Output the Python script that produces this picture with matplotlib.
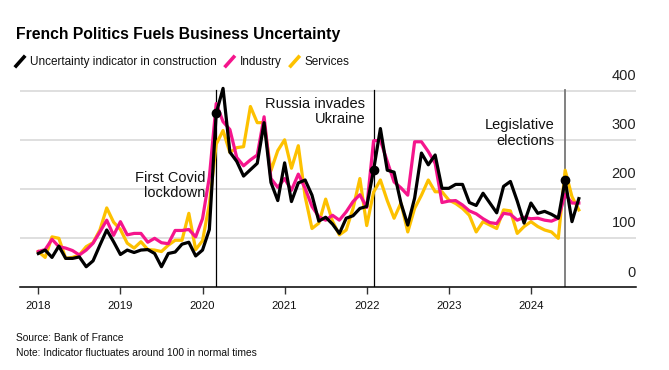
import matplotlib
matplotlib.use('Agg')
import matplotlib.pyplot as plt
from matplotlib import font_manager
from matplotlib.lines import Line2D
import numpy as np

# monthly data, Jan 2018 .. Aug 2024
construction = [69, 76, 61, 84, 59, 59, 62, 42, 54, 86, 117, 93,
                67, 76, 71, 76, 77, 69, 42, 69, 72, 88, 92, 64,
                76, 118, 355, 406, 276, 257, 227, 240, 253, 336, 214, 177,
                254, 175, 213, 219, 188, 135, 143, 129, 110, 141, 146, 161,
                165, 239, 324, 239, 235, 172, 127, 182, 274, 250, 270, 202,
                202, 210, 210, 173, 167, 192, 172, 152, 206, 216, 176, 131,
                172, 151, 155, 149, 141, 219, 134, 181]
industry = [73, 77, 98, 83, 80, 75, 66, 76, 90, 113, 137, 106,
            134, 107, 110, 110, 92, 100, 91, 89, 116, 116, 118, 103,
            140, 225, 375, 338, 322, 265, 248, 260, 270, 348, 222, 204,
            222, 198, 231, 202, 165, 144, 137, 147, 137, 154, 175, 189,
            163, 299, 300, 257, 215, 203, 188, 297, 297, 277, 253, 173,
            176, 177, 168, 156, 150, 140, 132, 130, 151, 149, 137, 143,
            140, 141, 137, 135, 141, 190, 172, 172]
services = [73, 61, 103, 100, 59, 61, 66, 83, 91, 117, 162, 133,
            118, 90, 80, 93, 77, 76, 73, 86, 96, 96, 151, 77,
            95, 170, 292, 320, 275, 285, 287, 369, 336, 336, 238, 279,
            301, 243, 289, 185, 120, 131, 180, 135, 107, 117, 161, 222,
            126, 194, 219, 177, 141, 172, 113, 161, 188, 219, 195, 195,
            178, 171, 161, 147, 113, 134, 127, 120, 158, 156, 110, 124,
            134, 124, 117, 113, 100, 239, 185, 158]
start_year = 2018
years = [2018, 2019, 2020, 2021, 2022, 2023, 2024]
y_ticks = [0, 100, 200, 300, 400]

# events: (year, month, label)
events = [(2020, 3, 'First Covid\nlockdown'),
          (2022, 2, 'Russia invades\nUkraine'),
          (2024, 6, 'Legislative\nelections')]

BLACK = '#000000'
PINK = '#f5158c'
YELLOW = '#fdc100'
GRID = '#dcdcdc'

names = {f.name for f in font_manager.fontManager.ttflist}
REG = 'Liberation Sans' if 'Liberation Sans' in names else 'DejaVu Sans'

t = start_year + np.arange(len(construction)) / 12.0

W, H = 669, 370
fig = plt.figure(figsize=(W / 100, H / 100), dpi=100)
ax = fig.add_axes([0.0299, 0.2235, 0.9208, 0.5562])
ax.set_xlim(2017.777, 2025.28)
ax.set_ylim(0, 420)

for v in y_ticks:
    if v > 0:
        ax.axhline(v, color=GRID, lw=1.3, zorder=1)
    ax.annotate(str(v), xy=(1.0, v), xycoords=('axes fraction', 'data'),
                xytext=(0, 6 if v else 5.5), textcoords='offset points',
                ha='right', va='bottom', fontsize=10.5, family=REG,
                color='#222222')

for (yr, mo, label) in events:
    ex = yr + (mo - 1) / 12.0
    col = '#777777' if yr == 2024 else BLACK
    lw = 1.3 if yr == 2024 else 0.9
    ax.plot([ex, ex], [0, 402], color=col, lw=lw, zorder=2)

ax.plot(t, services, color=YELLOW, lw=2.3, zorder=3)
ax.plot(t, industry, color=PINK, lw=2.3, zorder=4)
ax.plot(t, construction, color=BLACK, lw=2.3, zorder=5)

for (yr, mo, label) in events:
    idx = (yr - start_year) * 12 + mo - 1
    ax.plot(t[idx], construction[idx], 'o', color=BLACK, ms=6, zorder=6)

label_pos = [(2020.037, 208), (2021.98, 358), (2024.29, 315)]
for (yr, mo, label), (lx, ly) in zip(events, label_pos):
    ax.text(lx, ly, label, ha='right', va='center', fontsize=10.5,
            family=REG, linespacing=1.1, color='#111111', zorder=7)

ax.set_xticks(years)
ax.set_xticklabels([str(y) for y in years], family=REG, fontsize=8.2)
ax.set_yticks([])
ax.tick_params(axis='x', direction='out', length=5, width=1, color='#333333',
               pad=5, labelcolor='#111111')
for s in ['top', 'right', 'left']:
    ax.spines[s].set_visible(False)
ax.spines['bottom'].set_color(BLACK)
ax.spines['bottom'].set_linewidth(1.1)
ax.patch.set_alpha(0)

fig.text(16 / W, 1 - 39.5 / H, 'French Politics Fuels Business Uncertainty',
         fontsize=11.3, fontweight='bold', family=REG, va='baseline')

# legend row, each entry placed after the previous text
renderer = fig.canvas.get_renderer()
leg_y = 1 - 65 / H
entries = [(BLACK, 'Uncertainty indicator in construction'),
           (PINK, 'Industry'),
           (YELLOW, 'Services')]
px = 16
for col, txt in entries:
    fig.add_artist(Line2D([px / W, (px + 8) / W],
                          [1 - 66 / H, 1 - 57 / H],
                          color=col, lw=2.6, transform=fig.transFigure))
    tt = fig.text((px + 14) / W, leg_y, txt, fontsize=8.5, family=REG,
                  va='baseline', color='#111111')
    px = tt.get_window_extent(renderer).x1 + 9

fig.text(16 / W, 1 - 340.7 / H, 'Source: Bank of France',
         fontsize=7.4, family=REG, va='baseline', color='#111111')
fig.text(16 / W, 1 - 355.7 / H,
         'Note: Indicator fluctuates around 100 in normal times',
         fontsize=7.4, family=REG, va='baseline', color='#111111')

fig.savefig('out.png', dpi=100)
